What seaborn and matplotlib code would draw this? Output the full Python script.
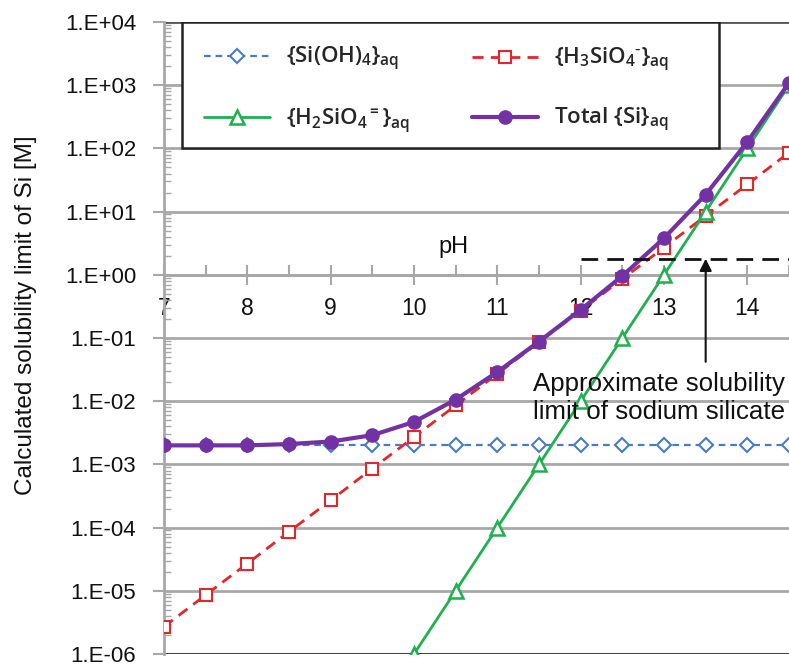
import numpy as np
import matplotlib
matplotlib.use("Agg")
import matplotlib.pyplot as plt
from matplotlib.patches import Rectangle
from matplotlib.ticker import FixedLocator, FuncFormatter, LogLocator, NullFormatter
import seaborn as sns

# pH grid and calculated species concentrations [M]
ph = [7.0, 7.5, 8.0, 8.5, 9.0, 9.5, 10.0, 10.5, 11.0, 11.5, 12.0, 12.5, 13.0, 13.5, 14.0, 14.5]
si_oh4 = [2.0e-3, 2.0e-3, 2.0e-3, 2.0e-3, 2.0e-3, 2.0e-3, 2.0e-3, 2.0e-3,
          2.0e-3, 2.0e-3, 2.0e-3, 2.0e-3, 2.0e-3, 2.0e-3, 2.0e-3, 2.0e-3]
h3sio4 = [2.7e-6, 8.6e-6, 2.7e-5, 8.6e-5, 2.7e-4, 8.6e-4, 2.7e-3, 8.6e-3,
          2.7e-2, 8.6e-2, 0.27, 0.86, 2.7, 8.6, 27.0, 86.0]
ph_h2 = [10.0, 10.5, 11.0, 11.5, 12.0, 12.5, 13.0, 13.5, 14.0, 14.5]
h2sio4 = [1e-6, 1e-5, 1e-4, 1e-3, 1e-2, 0.1, 1.0, 10.0, 100.0, 1000.0]
total = [2.0e-3, 2.0e-3, 2.0e-3, 2.1e-3, 2.3e-3, 2.9e-3, 4.7e-3, 1.06e-2,
         2.9e-2, 8.8e-2, 0.28, 0.96, 3.8, 18.6, 127.0, 1090.0]

labels = [
    r"{Si(OH)$_\mathregular{4}$}$_\mathregular{aq}$",
    r"{H$_\mathregular{3}$SiO$_\mathregular{4}$$^{\mathregular{\text{-}}}$}$_\mathregular{aq}$",
    r"{H$_\mathregular{2}$SiO$_\mathregular{4}$$^\mathregular{=}$}$_\mathregular{aq}$",
    r"Total {Si}$_\mathregular{aq}$",
]
sodium_silicate_limit = 1.8

sns.set_style("white")
plt.rcParams["font.family"] = ["Liberation Sans", "DejaVu Sans"]
plt.rcParams["mathtext.default"] = "regular"

BLUE = "#4a7cc4"
RED = "#e0282a"
GREEN = "#1fb04f"
PURPLE = "#7232a4"
GRID = "#a8a8a8"
INK = "#111111"

fig = plt.figure(figsize=(7.89, 6.66), dpi=100)
ax = fig.add_axes([164 / 789, 12 / 666, 625 / 789, 632 / 666])
ax.set_yscale("log")

# horizontal decade grid
for e in range(-5, 4):
    ax.axhline(10.0 ** e, color=GRID, lw=2.0, zorder=0)
ax.axhline(1e4, color="#555555", lw=2.0, zorder=0)
ax.axhline(1e-6, color="#444444", lw=2.2, zorder=0)

sns.lineplot(x=ph, y=si_oh4, ax=ax, color=BLUE, lw=1.6, marker="D",
             markersize=7, markerfacecolor="white", markeredgecolor=BLUE,
             markeredgewidth=1.5, zorder=3)
l_si = ax.lines[-1]
l_si.set_dashes((3.0, 2.2))

sns.lineplot(x=ph, y=h3sio4, ax=ax, color=RED, lw=2.0, marker="s",
             markersize=9, markerfacecolor="white", markeredgecolor=RED,
             markeredgewidth=1.5, zorder=4)
l_h3 = ax.lines[-1]
l_h3.set_dashes((4.0, 2.6))

sns.lineplot(x=ph_h2, y=h2sio4, ax=ax, color=GREEN, lw=2.0, marker="^",
             markersize=10, markerfacecolor="white", markeredgecolor=GREEN,
             markeredgewidth=1.8, zorder=5)
l_h2 = ax.lines[-1]

sns.lineplot(x=ph, y=total, ax=ax, color=PURPLE, lw=3.0, marker="o",
             markersize=9.5, markerfacecolor=PURPLE, markeredgecolor=PURPLE,
             markeredgewidth=1.0, zorder=6)
l_tot = ax.lines[-1]

ax.set_xlim(7, 14.42)
ax.set_ylim(1e-6, 1e4)

# y axis: decade labels in 1.E+nn form
ax.yaxis.set_major_locator(FixedLocator([10.0 ** e for e in range(-6, 5)]))
ax.yaxis.set_major_formatter(FuncFormatter(lambda v, p: "1.E{:+03d}".format(int(round(np.log10(v))))))
ax.yaxis.set_minor_locator(LogLocator(base=10, subs=np.arange(2, 10), numticks=20))
ax.yaxis.set_minor_formatter(NullFormatter())
ax.tick_params(axis="y", which="major", direction="out", length=8, width=1.5,
               color=GRID, labelsize=16, labelcolor=INK, pad=12, left=True)
ax.tick_params(axis="y", which="minor", direction="in", length=5, width=1.0,
               color=GRID, left=True)

# pH axis crossing at 1 M
ax.spines["bottom"].set_position(("data", 1.0))
ax.spines["bottom"].set_color(GRID)
ax.spines["bottom"].set_linewidth(2.0)
ax.spines["left"].set_color(GRID)
ax.spines["left"].set_linewidth(2.0)
ax.spines["top"].set_visible(False)
ax.spines["right"].set_visible(False)
ax.set_xticks([7, 8, 9, 10, 11, 12, 13, 14])
ax.set_xticks([7.5, 8.5, 9.5, 10.5, 11.5, 12.5, 13.5, 14.5], minor=True)
ax.tick_params(axis="x", which="major", direction="inout", length=14, width=1.5,
               color=GRID, labelsize=16.5, labelcolor=INK, pad=9, bottom=True)
ax.tick_params(axis="x", which="minor", direction="in", length=7, width=1.5,
               color=GRID, bottom=True)
ax.set_xlabel("")
ax.set_ylabel("")
ax.text(10.47, 2.8, "pH", fontsize=17, color=INK, ha="center", va="center")

fig.text(26 / 789, 1 - 315 / 666, "Calculated solubility limit of Si [M]",
         rotation=90, ha="center", va="center", fontsize=17.5, color=INK)

# sodium silicate solubility limit and arrow
ax.plot([12.0, 14.6], [sodium_silicate_limit, sodium_silicate_limit], color=INK,
        lw=2.0, dashes=(6, 3.3), zorder=7, clip_on=True)
ax.annotate("", xy=(13.5, sodium_silicate_limit), xytext=(13.5, 0.042),
            arrowprops=dict(arrowstyle="-|>", color=INK, lw=1.5,
                            mutation_scale=18, shrinkA=0, shrinkB=0), zorder=8)
ax.text(11.43, 0.0112, "Approximate solubility\nlimit of sodium silicate",
        fontsize=18.6, color=INK, ha="left", va="center", linespacing=1.2,
        zorder=8)

# legend: framed box with two columns of entries
ax.add_patch(Rectangle((0.0288, 0.80), 0.8592, 0.20, transform=ax.transAxes,
                       facecolor="white", edgecolor="#222222", lw=1.8, zorder=9))
leg_kw = dict(loc="center left", frameon=False, borderpad=0.0, borderaxespad=0.0,
              handlelength=2.95, handletextpad=0.75, labelspacing=1.45,
              prop={"family": ["Open Sans", "DejaVu Sans"], "weight": "semibold", "size": 16})
leg1 = ax.legend([l_si, l_h2], [labels[0], labels[2]],
                 bbox_to_anchor=(0.064, 0.8924), **leg_kw)
leg1.set_zorder(10)
ax.add_artist(leg1)
leg2 = ax.legend([l_h3, l_tot], [labels[1], labels[3]],
                 bbox_to_anchor=(0.4928, 0.8924), **leg_kw)
leg2.set_zorder(10)

fig.savefig("out.png", dpi=100)
